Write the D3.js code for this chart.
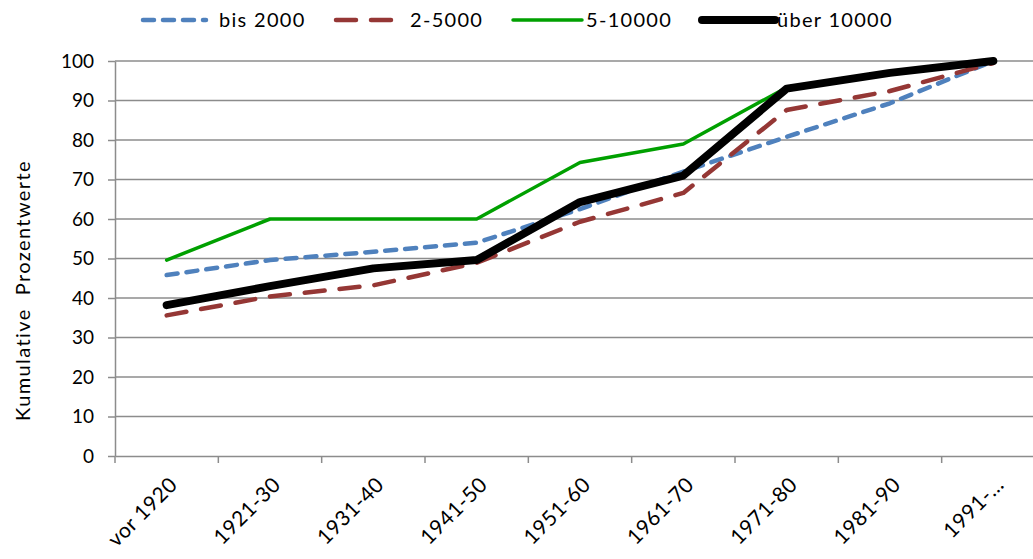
<!DOCTYPE html>
<html>
<head>
<meta charset="utf-8">
<script src="https://cdn.jsdelivr.net/npm/d3@7"></script>
<style>
  body { margin: 0; background: #fff; }
  svg text { font-family: Lato, "Open Sans", sans-serif; fill: #000; }
</style>
</head>
<body>
<svg id="chart" width="1033" height="559"></svg>
<script>
// Zeiträume (Kategorien)
const categories = ["vor 1920", "1921-30", "1931-40", "1941-50", "1951-60", "1961-70", "1971-80", "1981-90", "1991-…"];

// Kumulative Prozentwerte nach Gemeindegröße
const bis2000   = [45.8, 49.6, 51.7, 54.0, 62.5, 72.0, 80.8, 89.3, 100];
const bis5000   = [35.6, 40.4, 43.2, 48.9, 59.3, 66.6, 87.6, 92.4, 99.5];
const bis10000  = [49.6, 60, 60, 60, 74.3, 79.0, 93.3, 97.0, 100];
const ueber10000 = [38.2, 43.0, 47.5, 49.6, 64.3, 71.0, 93.0, 97.0, 100];

const yTicks = [0, 10, 20, 30, 40, 50, 60, 70, 80, 90, 100];

const seriesNames = ["bis 2000", "2-5000", "5-10000", "über 10000"];

const series = [
  { name: seriesNames[0], values: bis2000,    color: "#4f81bd", width: 4.5, dash: "11,9",  cap: "round" },
  { name: seriesNames[1], values: bis5000,    color: "#953735", width: 4.5, dash: "20,15", cap: "round" },
  { name: seriesNames[2], values: bis10000,   color: "#00a000", width: 3.5, dash: null,    cap: "round" },
  { name: seriesNames[3], values: ueber10000, color: "#000000", width: 8,   dash: null,    cap: "round" }
];

const svg = d3.select("#chart");
const plotLeft = 115, plotRight = 1045, plotTop = 61, plotBottom = 456;

const x = d3.scaleBand().domain(categories).range([plotLeft, plotRight]).padding(0);
const y = d3.scaleLinear().domain([0, 100]).range([plotBottom, plotTop]);

// Gitterlinien
svg.append("g")
  .selectAll("line")
  .data(yTicks.filter(d => d > 0))
  .join("line")
  .attr("x1", plotLeft).attr("x2", plotRight)
  .attr("y1", d => y(d)).attr("y2", d => y(d))
  .attr("stroke", "#8c8c8c").attr("stroke-width", 1.5);

// Y-Achse
const yAxis = svg.append("g")
  .attr("transform", `translate(${plotLeft},0)`)
  .call(d3.axisLeft(y).tickValues(yTicks).tickSize(7).tickPadding(14).tickSizeOuter(0));
yAxis.select(".domain").attr("stroke", "#8c8c8c").attr("stroke-width", 1.5);
yAxis.selectAll(".tick line").attr("stroke", "#8c8c8c").attr("stroke-width", 1.5);
yAxis.selectAll(".tick text").attr("font-size", 19).attr("font-family", "Lato, sans-serif").attr("fill", "#000");

// X-Achse
const xAxis = svg.append("g")
  .attr("transform", `translate(0,${plotBottom})`)
  .call(d3.axisBottom(x).tickSize(0).tickSizeOuter(0).tickFormat(""));
xAxis.select(".domain").attr("stroke", "#8c8c8c").attr("stroke-width", 1.5);

// Trennstriche zwischen Kategorien
svg.append("g")
  .selectAll("line")
  .data(categories)
  .join("line")
  .attr("x1", d => x(d)).attr("x2", d => x(d))
  .attr("y1", plotBottom).attr("y2", plotBottom + 7)
  .attr("stroke", "#8c8c8c").attr("stroke-width", 1.5);

// Kategorienbeschriftung, gedreht
svg.append("g")
  .selectAll("text")
  .data(categories)
  .join("text")
  .attr("transform", d => `translate(${x(d) + x.bandwidth() / 2 + 12},${plotBottom + 30}) rotate(-45)`)
  .attr("text-anchor", "end")
  .attr("font-size", 21)
  .attr("letter-spacing", 0.5)
  .text(d => d);

// Y-Achsentitel
svg.append("text")
  .attr("transform", `translate(30,${(plotTop + plotBottom) / 2 + 32}) rotate(-90)`)
  .attr("text-anchor", "middle")
  .attr("font-size", 20)
  .attr("letter-spacing", 1.4)
  .style("white-space", "pre")
  .text("Kumulative  Prozentwerte");

// Linien
const line = d3.line()
  .x((d, i) => x(categories[i]) + x.bandwidth() / 2)
  .y(d => y(d));

svg.append("g")
  .selectAll("path")
  .data(series)
  .join("path")
  .attr("d", d => line(d.values))
  .attr("fill", "none")
  .attr("stroke", d => d.color)
  .attr("stroke-width", d => d.width)
  .attr("stroke-dasharray", d => d.dash)
  .attr("stroke-linecap", d => d.cap)
  .attr("stroke-linejoin", "round");

// Legende
const legendPos = [
  { x1: 143, x2: 206, tx: 219 },
  { x1: 336, x2: 403, tx: 410 },
  { x1: 513, x2: 582, tx: 586 },
  { x1: 702, x2: 775, tx: 777 }
];
const legend = svg.append("g").selectAll("g").data(series).join("g");
legend.append("line")
  .attr("x1", (d, i) => legendPos[i].x1).attr("x2", (d, i) => legendPos[i].x2)
  .attr("y1", 20).attr("y2", 20)
  .attr("stroke", d => d.color)
  .attr("stroke-width", d => d.width)
  .attr("stroke-dasharray", d => d.dash)
  .attr("stroke-linecap", d => d.cap);
legend.append("text")
  .attr("x", (d, i) => legendPos[i].tx)
  .attr("y", 27)
  .attr("font-size", 20)
  .attr("letter-spacing", 1.3)
  .text(d => d.name);
</script>
</body>
</html>
